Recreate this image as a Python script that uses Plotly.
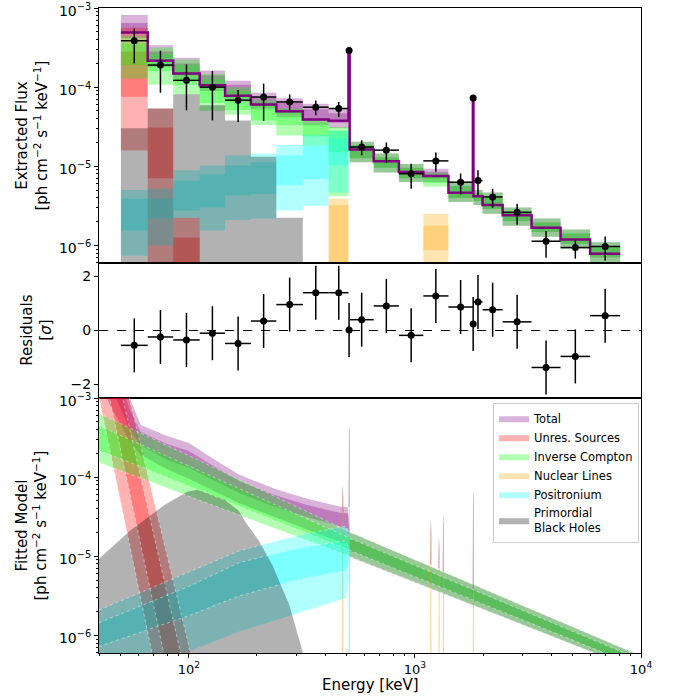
import plotly.graph_objects as go
from plotly.subplots import make_subplots

# ---------------- data ----------------
# spectral bins [keV]
bin_edges = [50, 65.7, 85.2, 111.6, 144.5, 188, 243.6, 319, 415, 508, 514, 657, 849,
             1089, 1406, 1804, 1814, 1991, 2443, 3280, 4406, 5955, 8090]
line_bins = [9, 15]          # narrow 511 keV and 1809 keV bins (no x error bar)

energy = [57.3, 74.8, 97.5, 127, 165, 214, 279, 364, 460, 511, 581, 747, 962, 1237,
          1592, 1809, 1900, 2206, 2831, 3801, 5122, 6941]
flux = [3.86e-4, 1.9e-4, 1.22e-4, 1.0e-4, 6.84e-5, 7.5e-5, 6.5e-5, 5.58e-5, 5.37e-5, 2.9e-4,
        1.75e-5, 1.6e-5, 8.07e-6, 1.17e-5, 6.3e-6, 7.3e-5, 6.6e-6, 4.1e-6, 2.62e-6, 1.13e-6,
        9.4e-7, 9.7e-7]
flux_hi = [5.53e-4, 2.88e-4, 1.94e-4, 1.6e-4, 9.2e-5, 1.11e-4, 8.1e-5, 6.8e-5, 6.5e-5, 2.9e-4,
           2.13e-5, 2.0e-5, 1.08e-5, 1.49e-5, 8.1e-6, 7.3e-5, 8.9e-6, 5.2e-6, 3.37e-6, 1.52e-6,
           1.16e-6, 1.3e-6]
flux_lo = [2.0e-4, 8.5e-5, 5.1e-5, 3.8e-5, 3.64e-5, 3.75e-5, 5.1e-5, 4.4e-5, 4.2e-5, 2.9e-4,
           1.38e-5, 1.11e-5, 5.2e-6, 8.5e-6, 4.4e-6, 7.3e-5, 4.3e-6, 3.0e-6, 1.83e-6, 7.0e-7,
           6.8e-7, 6.45e-7]

# best-fit total model per bin (log10 flux)
model_step = [-3.308, -3.667, -3.827, -3.975, -4.11, -4.219, -4.304, -4.409, -4.426, -3.53,
              -4.789, -4.937, -5.072, -5.122, -5.333, -4.135, -5.38, -5.49, -5.62, -5.776,
              -5.924, -6.105]

residual = [-0.55, -0.24, -0.35, -0.10, -0.48, 0.35, 0.96, 1.40, 1.40, 0.02, 0.40, 0.91,
            -0.18, 1.28, 0.87, 0.24, 1.06, 0.77, 0.32, -1.37, -0.96, 0.55]
residual_err = [1, 1, 1, 1, 1, 1, 1, 1, 1, 1, 1, 1, 1, 1, 1, 1, 1, 1, 1, 1, 1, 1]

# per-bin extracted bands, log10 flux (outer = 95 %, inner = 68 %)
N = None
tot_o_lo = [-3.38, -3.75, -3.9, -4.05, -4.18, -4.28, -4.38, -4.48, -4.52, -3.58, -4.95, -5.08,
            -5.2, -5.2, -5.45, -4.18, -5.49, -5.6, -5.75, -5.89, -6.04, -6.21]
tot_o_hi = [-3.09, -3.47, -3.63, -3.79, -3.92, -4.07, -4.14, -4.21, -4.27, -3.49, -4.69, -4.84,
            -4.97, -5.03, -5.2, -4.1, -5.3, -5.33, -5.52, -5.66, -5.8, -5.96]
tot_i_lo = [-3.30, -3.68, -3.85, -4.0, -4.12, -4.24, -4.33, -4.42, -4.45, -3.56, -4.9, -5.02,
            -5.15, -5.15, -5.4, -4.16, -5.44, -5.54, -5.69, -5.83, -5.98, -6.15]
tot_i_hi = [-3.19, -3.55, -3.7, -3.85, -3.97, -4.12, -4.2, -4.28, -4.33, -3.51, -4.73, -4.89,
            -5.02, -5.07, -5.25, -4.12, -5.34, -5.4, -5.57, -5.71, -5.85, -6.01]

red_o_lo = [-4.80, -6.3, -6.5] + [N] * 19
red_o_hi = [-3.25, -4.27, -5.65] + [N] * 19
red_i_lo = [-4.12, -5.15, -6.5] + [N] * 19
red_i_hi = [-3.55, -4.51, -5.9] + [N] * 19

ic_o_lo = [-3.89, -3.97, -4.09, -4.3, -4.35, -4.48, -4.61, -4.74, -5.38, -4.8, -4.95, -5.08,
           -5.2, -5.26, -5.45, -5.47, -5.49, -5.6, -5.75, -5.89, -6.04, -6.21]
ic_o_hi = [-3.35, -3.5, -3.65, -3.83, -4.0, -4.16, -4.27, -4.4, -4.5, -4.6, -4.69, -4.84,
           -4.97, -5.08, -5.2, -5.25, -5.3, -5.33, -5.52, -5.66, -5.8, -5.96]
ic_i_lo = [-3.72, -3.8, -3.97, -4.2, -4.29, -4.42, -4.48, -4.62, -4.82, -4.7, -4.9, -5.02,
           -5.15, -5.21, -5.4, -5.42, -5.44, -5.54, -5.69, -5.83, -5.98, -6.15]
ic_i_hi = [-3.45, -3.58, -3.72, -3.9, -4.05, -4.2, -4.32, -4.45, -4.55, -4.65, -4.73, -4.89,
           -5.02, -5.12, -5.25, -5.3, -5.34, -5.4, -5.57, -5.71, -5.85, -6.01]

nuc_o_lo = [N] * 8 + [-6.5] + [N] * 4 + [-6.25, N, -4.2] + [N] * 6
nuc_o_hi = [N] * 8 + [-5.41] + [N] * 4 + [-5.6, N, -4.1] + [N] * 6
nuc_i_lo = [N] * 8 + [-6.5] + [N] * 4 + [-6.06, N, -4.18] + [N] * 6
nuc_i_hi = [N] * 8 + [-5.49] + [N] * 4 + [-5.75, N, -4.12] + [N] * 6

ps_o_lo = [-6.13, -6.0, -5.65, -5.81, -5.68, -5.66, -5.56, -5.5, -5.33, -3.62] + [N] * 12
ps_o_hi = [-5.30, -5.28, -5.05, -4.99, -4.86, -4.84, -4.73, -4.6, -4.55, -3.5] + [N] * 12
ps_i_lo = [-5.81, -5.66, -5.56, -5.52, -5.37, -5.35, -5.24, -5.16, -4.99, -3.58] + [N] * 12
ps_i_hi = [-5.41, -5.41, -5.18, -5.1, -4.99, -4.95, -4.86, -4.74, -4.65, -3.53] + [N] * 12

pbh_bin_hi = [-4.52, -4.27, -4.09, -4.23, -4.42, -4.88, -5.65] + [N] * 15

# fitted model bands (log10 flux) versus energy
tot_E = [40, 45, 50, 54.7, 61.2, 80, 100, 130, 167, 236, 330, 464, 505, 515, 541, 1000, 6310, 10000]
tot_m_o_hi = [-1.5, -2.1, -2.6, -3.0, -3.34, -3.48, -3.57, -3.78, -3.97, -4.14, -4.27, -4.37,
              -4.38, -4.71, -4.722, -5.046, -6.017, -6.26]
tot_m_o_lo = [-2.8, -3.1, -3.35, -3.55, -3.72, -3.9, -4.02, -4.18, -4.33, -4.5, -4.65, -4.82,
              -4.86, -5.01, -5.025, -5.33, -6.228, -6.456]
tot_m_i_hi = [-1.8, -2.35, -2.8, -3.15, -3.43, -3.58, -3.67, -3.87, -4.05, -4.22, -4.35, -4.45,
              -4.46, -4.79, -4.798, -5.117, -6.07, -6.309]
tot_m_i_lo = [-2.5, -2.85, -3.15, -3.4, -3.6, -3.78, -3.88, -4.05, -4.2, -4.37, -4.5, -4.62,
              -4.65, -4.94, -4.949, -5.259, -6.175, -6.407]

unres_E = [38, 110]
unres_o_hi = [-1.14, -6.63]
unres_o_lo = [-2.68, -9.05]
unres_i_hi = [-1.40, -7.21]
unres_i_lo = [-2.07, -8.28]

ic_E = [39.5, 100, 541, 6310, 10000]
ic_m_o_hi = [-3.19, -3.73, -4.722, -6.017, -6.26]
ic_m_o_lo = [-3.81, -4.24, -5.025, -6.228, -6.456]
ic_m_i_hi = [-3.345, -3.86, -4.798, -6.07, -6.309]
ic_m_i_lo = [-3.655, -4.11, -4.949, -6.175, -6.407]

ps_E = [40, 100, 167, 300, 494, 509]
ps_m_o_hi = [-5.68, -5.2, -4.93, -4.74, -4.62, -4.75]
ps_m_o_lo = [-6.6, -6.2, -5.95, -5.72, -5.53, -5.3]
ps_m_i_hi = [-5.84, -5.38, -5.08, -4.9, -4.8, -4.9]
ps_m_i_lo = [-6.14, -5.75, -5.5, -5.3, -5.18, -5.1]
ps_line_E = [511]
ps_line_o = [-3.33]
ps_line_i = [-3.40]

nuc_line_E = [478, 1173, 1275, 1333, 1809]
nuc_line_o = [-4.14, -4.56, -4.78, -4.50, -4.18]
nuc_line_i = [-4.22, -4.64, -4.86, -4.58, -4.26]
tot_line_E = [478, 511, 1173, 1275, 1333, 1809]
tot_line_peak = [-4.08, -3.33, -4.53, -4.74, -4.47, -4.15]
tot_line_base = [-4.45, -4.38, -5.1, -5.15, -5.2, -5.45]

pbh_E = [40, 55.2, 78.2, 99, 109.6, 144.6, 166.8, 177.2, 204.5, 233.9, 278.3, 318, 345]
pbh_m_hi = [-5.03, -4.67, -4.35, -4.18, -4.16, -4.29, -4.43, -4.56, -4.81, -5.11, -5.62, -6.2, -6.9]

# ---------------- style ----------------
FLOOR = -9.0
C_TOT = 'rgba(128,0,128,0.3)'
C_RED = 'rgba(255,0,0,0.3)'
C_IC = 'rgba(0,255,0,0.3)'
C_NUC = 'rgba(255,165,0,0.3)'
C_PS = 'rgba(0,255,255,0.3)'
C_PBH = 'rgba(0,0,0,0.3)'
C_SEAM = 'rgba(255,255,255,0.45)'
FONT = 'DejaVu Sans'


def lin(v):
    return None if v is None else 10 ** v


def bin_polys(lo, hi):
    xs, ys = [], []
    for i in range(len(hi)):
        if lo[i] is None or hi[i] is None:
            continue
        x0, x1 = bin_edges[i], bin_edges[i + 1]
        xs += [x0, x1, x1, x0, x0, None]
        ys += [lin(lo[i]), lin(lo[i]), lin(hi[i]), lin(hi[i]), lin(lo[i]), None]
    return xs, ys


def band_poly(E, lo, hi):
    xs = list(E) + list(E)[::-1] + [E[0]]
    ys = [lin(v) for v in hi] + [lin(v) for v in lo][::-1] + [lin(hi[0])]
    return xs, ys


def spikes(centers, peaks, bases, w=0.0075, tip=0.12):
    """thin, pointed vertical line profiles"""
    xs, ys = [], []
    for c, p, b in zip(centers, peaks, bases):
        xs += [c * (1 - w), c * (1 - w), c, c * (1 + w), c * (1 + w), c * (1 - w), None]
        ys += [lin(b), lin(p - tip), lin(p), lin(p - tip), lin(b), lin(b), None]
    return xs, ys


fig = make_subplots(rows=3, cols=1, shared_xaxes=True, vertical_spacing=0,
                    row_heights=[255, 135, 255])


def add_fill(xy, color, row, name=None, legend=False):
    xs, ys = xy
    fig.add_trace(go.Scatter(x=xs, y=ys, mode='lines', fill='toself', fillcolor=color,
                             line=dict(width=0, color=color), hoverinfo='skip',
                             name=name, showlegend=legend, legendgroup=name),
                  row=row, col=1)


def add_seam(E, vals, row=3):
    fig.add_trace(go.Scatter(x=E, y=[lin(v) for v in vals], mode='lines',
                             line=dict(width=1, color=C_SEAM, dash='dot'),
                             hoverinfo='skip', showlegend=False), row=row, col=1)


# ---------- top panel: extracted flux ----------
for lo, hi, c in [(tot_o_lo, tot_o_hi, C_TOT), (tot_i_lo, tot_i_hi, C_TOT),
                  (red_o_lo, red_o_hi, C_RED), (red_i_lo, red_i_hi, C_RED),
                  (ic_o_lo, ic_o_hi, C_IC), (ic_i_lo, ic_i_hi, C_IC),
                  (nuc_o_lo, nuc_o_hi, C_NUC), (nuc_i_lo, nuc_i_hi, C_NUC),
                  (ps_o_lo, ps_o_hi, C_PS), (ps_i_lo, ps_i_hi, C_PS)]:
    add_fill(bin_polys(lo, hi), c, 1)
pbh_bin_lo = [FLOOR if h is not None else None for h in pbh_bin_hi]
add_fill(bin_polys(pbh_bin_lo, pbh_bin_hi), C_PBH, 1)

fig.add_trace(go.Scatter(x=bin_edges, y=[lin(v) for v in model_step] + [lin(model_step[-1])],
                         mode='lines', line_shape='hv',
                         line=dict(color='rgb(128,0,128)', width=2.5),
                         hoverinfo='skip', showlegend=False), row=1, col=1)

xerr_p = [0 if i in line_bins else bin_edges[i + 1] - energy[i] for i in range(len(energy))]
xerr_m = [0 if i in line_bins else energy[i] - bin_edges[i] for i in range(len(energy))]

fig.add_trace(go.Scatter(
    x=energy, y=flux, mode='markers', marker=dict(color='black', size=7),
    error_y=dict(type='data', symmetric=False,
                 array=[h - f for h, f in zip(flux_hi, flux)],
                 arrayminus=[f - l for f, l in zip(flux, flux_lo)],
                 color='black', thickness=1.5, width=0),
    error_x=dict(type='data', symmetric=False, array=xerr_p, arrayminus=xerr_m,
                 color='black', thickness=1.5, width=0),
    hoverinfo='skip', showlegend=False), row=1, col=1)

# ---------- middle panel: residuals ----------
fig.add_trace(go.Scatter(
    x=energy, y=residual, mode='markers', marker=dict(color='black', size=7),
    error_y=dict(type='data', array=residual_err, color='black', thickness=1.5, width=0),
    error_x=dict(type='data', symmetric=False, array=xerr_p, arrayminus=xerr_m,
                 color='black', thickness=1.5, width=0),
    hoverinfo='skip', showlegend=False), row=2, col=1)
fig.add_shape(type='line', xref='x2 domain', yref='y2', x0=0, x1=1, y0=0, y1=0,
              line=dict(color='black', width=1.2, dash='dash'))

# ---------- bottom panel: fitted model ----------
add_fill(band_poly(tot_E, tot_m_o_lo, tot_m_o_hi), C_TOT, 3, 'Total', True)
add_fill(band_poly(tot_E, tot_m_i_lo, tot_m_i_hi), C_TOT, 3, 'Total')
add_fill(spikes(tot_line_E, tot_line_peak, tot_line_base), C_TOT, 3, 'Total')

add_fill(band_poly(unres_E, unres_o_lo, unres_o_hi), C_RED, 3, 'Unres. Sources', True)
add_fill(band_poly(unres_E, unres_i_lo, unres_i_hi), C_RED, 3, 'Unres. Sources')

add_fill(band_poly(ic_E, ic_m_o_lo, ic_m_o_hi), C_IC, 3, 'Inverse Compton', True)
add_fill(band_poly(ic_E, ic_m_i_lo, ic_m_i_hi), C_IC, 3, 'Inverse Compton')

add_fill(spikes(nuc_line_E, nuc_line_o, [FLOOR] * len(nuc_line_E)), C_NUC, 3, 'Nuclear Lines', True)
add_fill(spikes(nuc_line_E, nuc_line_i, [FLOOR] * len(nuc_line_E)), C_NUC, 3, 'Nuclear Lines')

add_fill(band_poly(ps_E, ps_m_o_lo, ps_m_o_hi), C_PS, 3, 'Positronium', True)
add_fill(band_poly(ps_E, ps_m_i_lo, ps_m_i_hi), C_PS, 3, 'Positronium')
add_fill(spikes(ps_line_E, ps_line_o, [FLOOR]), C_PS, 3, 'Positronium')
add_fill(spikes(ps_line_E, ps_line_i, [FLOOR]), C_PS, 3, 'Positronium')

add_fill(band_poly(pbh_E, [FLOOR] * len(pbh_E), pbh_m_hi), C_PBH, 3,
         'Primordial<br>Black Holes', True)

# faint seams along the band edges (as in the rasterised original)
for E, vals in [(ic_E, ic_m_i_hi), (ic_E, ic_m_i_lo), (ic_E, ic_m_o_hi), (ic_E, ic_m_o_lo),
                (unres_E, unres_i_hi), (unres_E, unres_i_lo),
                (unres_E, unres_o_hi), (unres_E, unres_o_lo),
                (ps_E, ps_m_i_hi), (ps_E, ps_m_i_lo), (ps_E, ps_m_o_hi)]:
    add_seam(E, vals)

# ---------- axes ----------
minor_x = [m * 10 ** k for k in (1, 2, 3) for m in range(2, 10) if 40 <= m * 10 ** k <= 1e4]
minor_y = [m * 10 ** k for k in (-7, -6, -5, -4) for m in range(2, 10)]
XR = [1.60206, 4]
YR = [-6.222, -3]
ylog_ticks = dict(tickvals=[1e-6, 1e-5, 1e-4, 1e-3],
                  ticktext=['10<sup>−6</sup>', '10<sup>−5</sup>', '10<sup>−4</sup>', '10<sup>−3</sup>'])
axcommon = dict(showline=True, linecolor='black', linewidth=1, mirror=True,
                showgrid=False, zeroline=False, automargin=False, ticklabeloverflow='allow')

for r in (1, 2):
    fig.update_xaxes(type='log', range=XR, ticks='', showticklabels=False, row=r, col=1, **axcommon)
fig.update_xaxes(type='log', range=XR, ticks='outside', ticklen=4, tickwidth=1, tickcolor='black',
                 tickvals=[100, 1000, 10000],
                 ticktext=['10<sup>2</sup>', '10<sup>3</sup>', '10<sup>4</sup>'],
                 tickfont=dict(size=13, color='black', family=FONT),
                 minor=dict(ticks='outside', ticklen=2, tickcolor='black', tickmode='array',
                            tickvals=minor_x),
                 row=3, col=1, **axcommon)

for r in (1, 3):
    fig.update_yaxes(type='log', range=YR, ticks='outside', ticklen=4, tickwidth=1,
                     tickcolor='black', tickfont=dict(size=14, color='black', family=FONT),
                     ticklabelshift=3,
                     minor=dict(ticks='outside', ticklen=2, tickcolor='black',
                                tickmode='array', tickvals=minor_y),
                     row=r, col=1, **ylog_ticks, **axcommon)
fig.update_yaxes(range=[-2.5, 2.5], tickvals=[-2, 0, 2], ticktext=['−2', '0', '2'],
                 ticks='outside', ticklen=4, tickwidth=1, tickcolor='black',
                 tickfont=dict(size=14, color='black', family=FONT), row=2, col=1, **axcommon)

units = '[ph cm<sup>−2</sup> s<sup>−1</sup> keV<sup>−1</sup>]'
ann = [
    dict(text='Extracted Flux<br>' + units, x=-0.1236, y=0.8023),
    dict(text='Residuals<br>[<i>σ</i>]', x=-0.116, y=0.5),
    dict(text='Fitted Model<br>' + units, x=-0.1236, y=0.1977),
]
for a in ann:
    fig.add_annotation(xref='paper', yref='paper', showarrow=False, textangle=-90,
                       xanchor='center', yanchor='middle',
                       font=dict(size=15, color='black', family=FONT), **a)
fig.add_annotation(text='Energy [keV]', xref='paper', yref='paper', x=0.5, y=-0.0496,
                   showarrow=False, xanchor='center', yanchor='middle',
                   font=dict(size=15, color='black', family=FONT))

fig.update_layout(
    width=673, height=700,
    margin=dict(l=99, r=32, t=8, b=47, autoexpand=False),
    paper_bgcolor='white', plot_bgcolor='white',
    font=dict(family=FONT, color='black'),
    legend=dict(x=0.727, y=0.388, xanchor='left', yanchor='top',
                bgcolor='rgba(255,255,255,0.8)', bordercolor='#cccccc', borderwidth=1,
                font=dict(size=11.5, family=FONT, color='black'), traceorder='normal',
                tracegroupgap=0),
)

# the page's default body margin would offset the figure; remove it
fig.write_html('out.html', config={'displayModeBar': False},
               post_script="document.body.style.margin='0px';document.body.style.padding='0px';")
